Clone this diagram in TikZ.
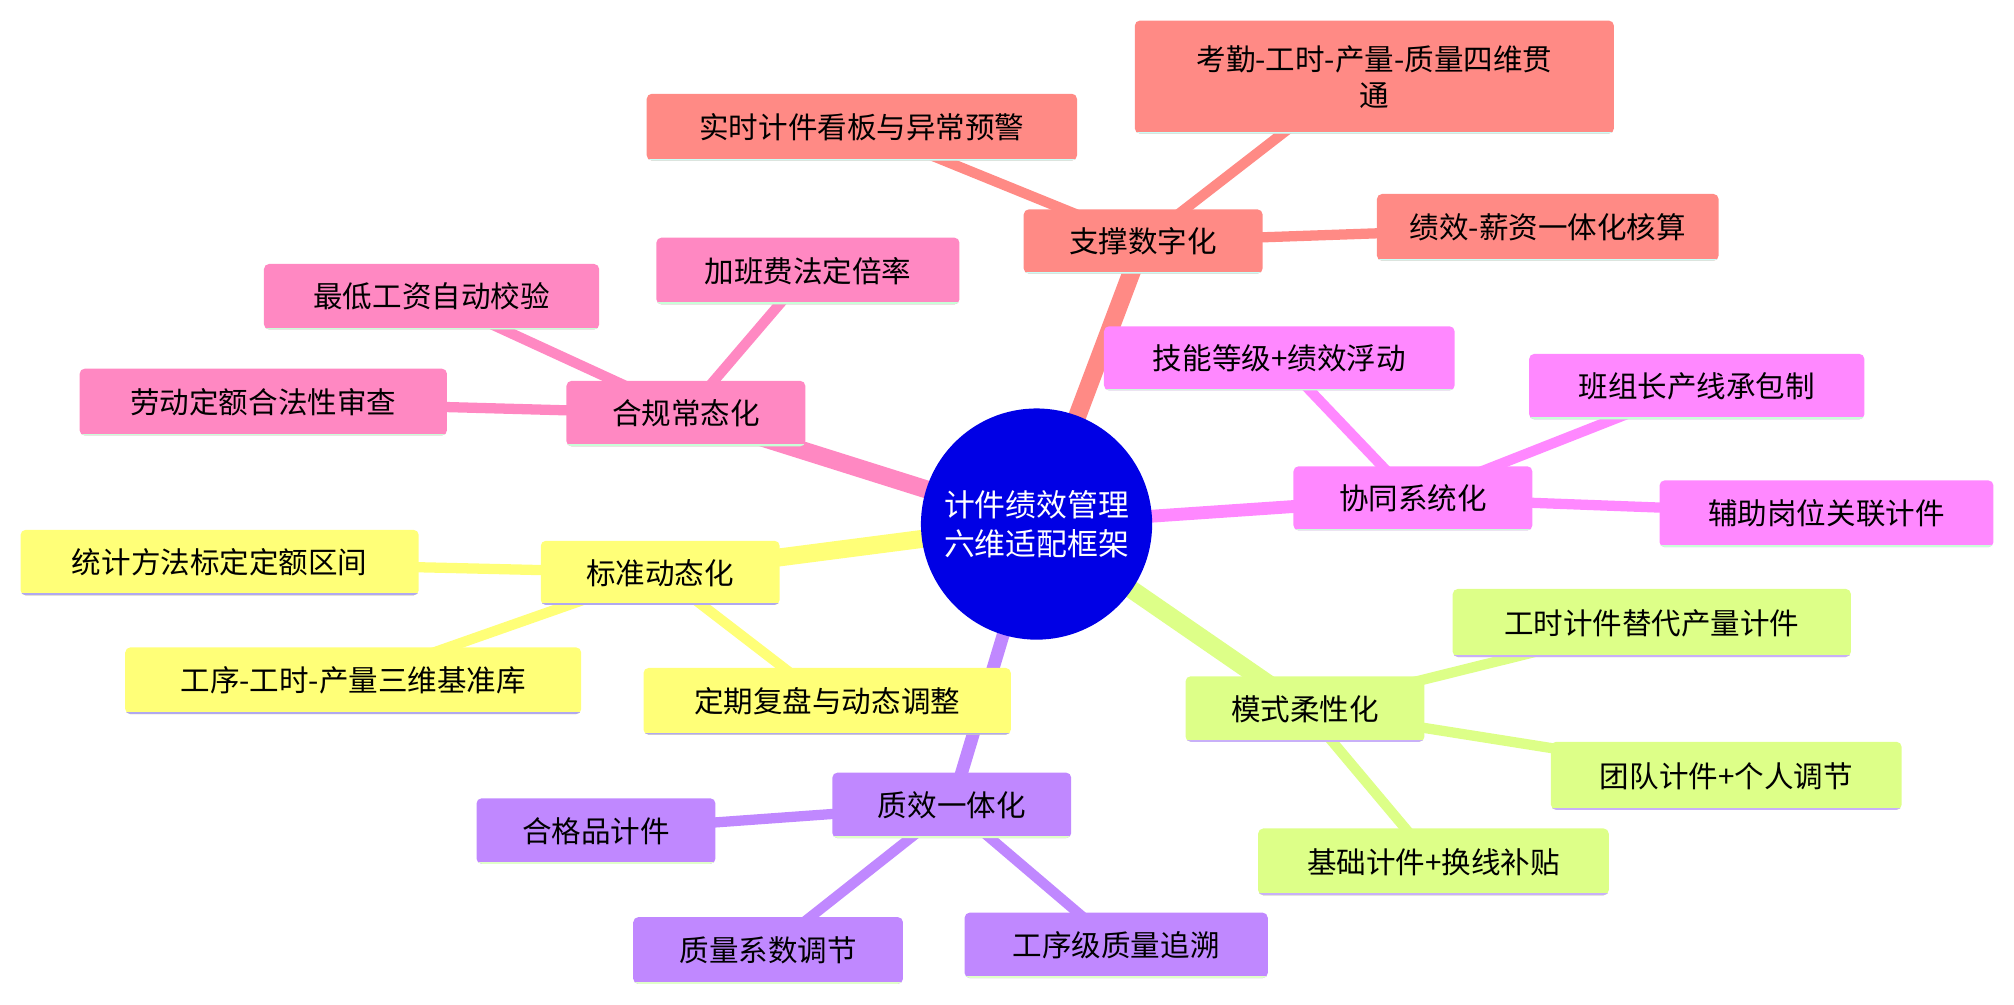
\documentclass[tikz,border=0pt]{standalone}
\usepackage{fontspec}
\setmainfont{Noto Sans CJK SC}
\begin{document}
\begin{tikzpicture}[x=0.5pt,y=-0.5pt,
 bx/.style={rounded corners=2pt,inner sep=0pt,font=\fontsize{11.5}{14}\selectfont,align=center},
 lk/.style={line width=4pt},
 mk/.style={line width=6pt}]
\definecolor{cR}{HTML}{FF8A85}\definecolor{cP}{HTML}{FF88C2}\definecolor{cY}{HTML}{FFFF78}
\definecolor{cM}{HTML}{FF88FF}\definecolor{cG}{HTML}{DDFF88}\definecolor{cV}{HTML}{C088FF}
\definecolor{bC}{HTML}{C8FFF8}\definecolor{bG}{HTML}{C8FFD8}\definecolor{bL}{HTML}{B0A8F0}\definecolor{bV}{HTML}{C8B0F8}\definecolor{bGr}{HTML}{E0FFC8}
\useasboundingbox (0,0) rectangle (1568,782);
\newcommand\bx[8]{\node[bx,fill=#6,minimum width=#4*0.5pt,minimum height=#5*0.5pt,
 path picture={\draw[#7,line width=1.5pt](path picture bounding box.south west)--(path picture bounding box.south east);}] (#1) at (#2,#3) {#8};}
% coordinates for links
\coordinate (c) at (807,408);
\coordinate (r) at (890,188);\coordinate (p) at (534,322);\coordinate (y) at (514,446);
\coordinate (m) at (1100,388);\coordinate (g) at (1016,552);\coordinate (v) at (741,627);
% main links
\draw[cR,line width=7pt] (c)--(r);
\draw[cP,line width=7pt] (c)--(p);
\draw[cY,line width=7pt] (c)--(y);
\draw[cM,line width=5pt] (c)--(m);
\draw[cG,line width=7pt] (c)--(g);
\draw[cV,line width=5pt] (c)--(v);
% child links
\draw[cR,lk] (r)--(671,99); \draw[cR,lk] (r)--(1010,95); \draw[cR,lk] (r)--(1205,177);
\draw[cP,lk] (p)--(629,211); \draw[cP,lk] (p)--(336,231); \draw[cP,lk] (p)--(205,313);
\draw[cY,lk] (y)--(171,438); \draw[cY,lk] (y)--(275,530); \draw[cY,lk] (y)--(644,546);
\draw[cM,lk] (m)--(996,279); \draw[cM,lk] (m)--(1321,301); \draw[cM,lk] (m)--(1422,400);
\draw[cG,lk] (g)--(1286,485); \draw[cG,lk] (g)--(1344,604); \draw[cG,lk] (g)--(1116,671);
\draw[cV,lk] (v)--(464,647); \draw[cV,lk] (v)--(598,740); \draw[cV,lk] (v)--(869,736);
% center
\node[circle,fill=blue!90!black,minimum size=90pt,inner sep=0pt,text=white,align=center,font=\fontsize{12}{15}\selectfont] (cc) at (c) {计件绩效管理\\六维适配框架};
% branches
\bx{R}{890}{188}{186}{50}{cR}{bC}{支撑数字化}
\bx{R1}{671}{99}{335}{52}{cR}{bC}{实时计件看板与异常预警}
\bx{R2}{1070}{60}{373}{88}{cR}{bC}{考勤-工时-产量-质量四维贯\\通}
\bx{R3}{1205}{177}{266}{52}{cR}{bC}{绩效-薪资一体化核算}
\bx{P}{534}{322}{186}{51}{cP}{bG}{合规常态化}
\bx{P1}{629}{211}{236}{52}{cP}{bG}{加班费法定倍率}
\bx{P2}{336}{231}{261}{51}{cP}{bG}{最低工资自动校验}
\bx{P3}{205}{313}{286}{52}{cP}{bG}{劳动定额合法性审查}
\bx{Y}{514}{446}{186}{50}{cY}{bL}{标准动态化}
\bx{Y1}{171}{438}{310}{51}{cY}{bL}{统计方法标定定额区间}
\bx{Y2}{275}{530}{355}{52}{cY}{bL}{工序-工时-产量三维基准库}
\bx{Y3}{644}{546}{286}{52}{cY}{bL}{定期复盘与动态调整}
\bx{M}{1100}{388}{186}{50}{cM}{bG}{协同系统化}
\bx{M1}{996}{279}{273}{50}{cM}{bG}{技能等级+绩效浮动}
\bx{M2}{1321}{301}{261}{51}{cM}{bG}{班组长产线承包制}
\bx{M3}{1422}{400}{260}{52}{cM}{bG}{辅助岗位关联计件}
\bx{G}{1016}{552}{186}{51}{cG}{bV}{模式柔性化}
\bx{G1}{1286}{485}{310}{53}{cG}{bV}{工时计件替代产量计件}
\bx{G2}{1344}{604}{273}{53}{cG}{bV}{团队计件+个人调节}
\bx{G3}{1116}{671}{273}{52}{cG}{bV}{基础计件+换线补贴}
\bx{V}{741}{627}{186}{51}{cV}{bGr}{质效一体化}
\bx{V1}{464}{647}{186}{51}{cV}{bGr}{合格品计件}
\bx{V2}{598}{740}{210}{52}{cV}{bGr}{质量系数调节}
\bx{V3}{869}{736}{236}{51}{cV}{bGr}{工序级质量追溯}
\end{tikzpicture}
\end{document}
